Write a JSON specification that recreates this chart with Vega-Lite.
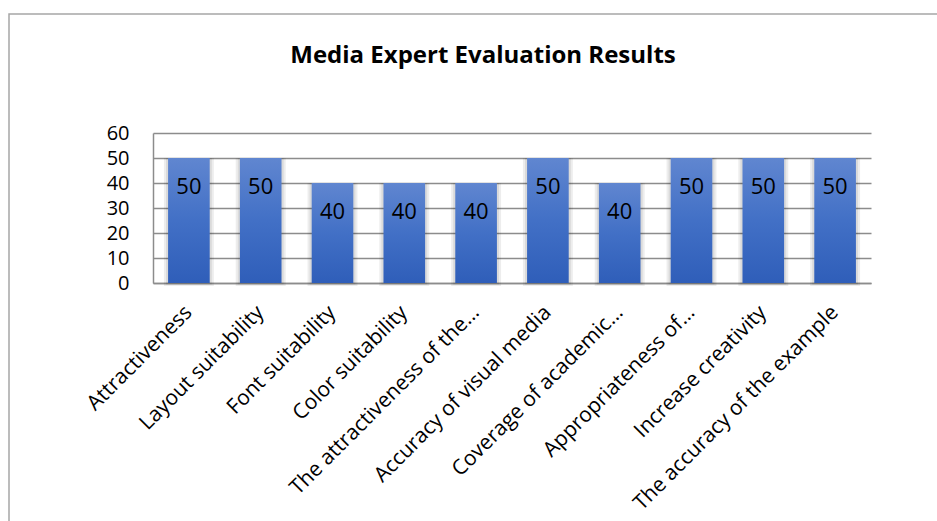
{
  "$schema": "https://vega.github.io/schema/vega-lite/v6.json",
  "width": 948,
  "height": 520,
  "autosize": {"type": "none"},
  "padding": {"left": 9, "top": 14, "right": 0, "bottom": 0},
  "background": "white",
  "config": {
    "view": {"stroke": "#A6A6A6", "strokeWidth": 1.5},
    "font": "Open Sans"
  },
  "title": {
    "text": "Media Expert Evaluation Results",
    "font": "Open Sans",
    "fontSize": 24,
    "fontWeight": "bold",
    "color": "#000000",
    "anchor": "middle",
    "offset": -54
  },
  "data": {
    "values": [
      {"criterion": "Attractiveness", "score": 50},
      {"criterion": "Layout suitability", "score": 50},
      {"criterion": "Font suitability", "score": 40},
      {"criterion": "Color suitability", "score": 40},
      {"criterion": "The attractiveness of the…", "score": 40},
      {"criterion": "Accuracy of visual media", "score": 50},
      {"criterion": "Coverage of academic…", "score": 40},
      {"criterion": "Appropriateness of…", "score": 50},
      {"criterion": "Increase creativity", "score": 50},
      {"criterion": "The accuracy of the example", "score": 50}
    ]
  },
  "encoding": {
    "x": {
      "field": "criterion",
      "type": "nominal",
      "sort": null,
      "title": null,
      "scale": {"range": [144, 862], "paddingInner": 0.42, "paddingOuter": 0.21},
      "axis": {
        "orient": "bottom",
        "offset": -251,
        "labelAngle": -45,
        "labelAlign": "right",
        "labelBaseline": "middle",
        "labelFont": "Open Sans",
        "labelFontSize": 21,
        "labelColor": "#000000",
        "labelPadding": 26,
        "labelLimit": 400,
        "ticks": false,
        "domain": true,
        "domainColor": "#8C8C8C",
        "domainWidth": 1.5,
        "grid": false
      }
    },
    "y": {
      "field": "score",
      "type": "quantitative",
      "title": null,
      "scale": {"domain": [0, 60], "range": [269, 119], "nice": false},
      "axis": {
        "orient": "left",
        "offset": -144,
        "values": [0, 10, 20, 30, 40, 50, 60],
        "labelFont": "Open Sans",
        "labelFontSize": 20,
        "labelColor": "#000000",
        "labelPadding": 24,
        "ticks": false,
        "domain": true,
        "domainColor": "#8C8C8C",
        "domainWidth": 1.5,
        "grid": true,
        "gridColor": "#8C8C8C",
        "gridWidth": 1.5
      }
    }
  },
  "layer": [
    {
      "mark": {"type": "bar", "color": "#000000", "opacity": 0.07, "width": {"band": 1.2}},
      "encoding": {"y2": {"datum": -1.2}}
    },
    {
      "mark": {"type": "bar", "color": "#000000", "opacity": 0.08, "width": {"band": 1.1}},
      "encoding": {"y2": {"datum": -0.6}}
    },
    {
      "mark": {
        "type": "bar",
        "color": {
          "gradient": "linear",
          "x1": 0, "y1": 0, "x2": 0, "y2": 1,
          "stops": [
            {"offset": 0, "color": "#6086D0"},
            {"offset": 0.5, "color": "#4270C6"},
            {"offset": 1, "color": "#2F5EB9"}
          ]
        }
      }
    },
    {
      "mark": {
        "type": "text",
        "baseline": "middle",
        "dy": 29,
        "font": "Open Sans",
        "fontSize": 22,
        "color": "#000000"
      },
      "encoding": {"text": {"field": "score", "type": "quantitative"}}
    }
  ]
}
